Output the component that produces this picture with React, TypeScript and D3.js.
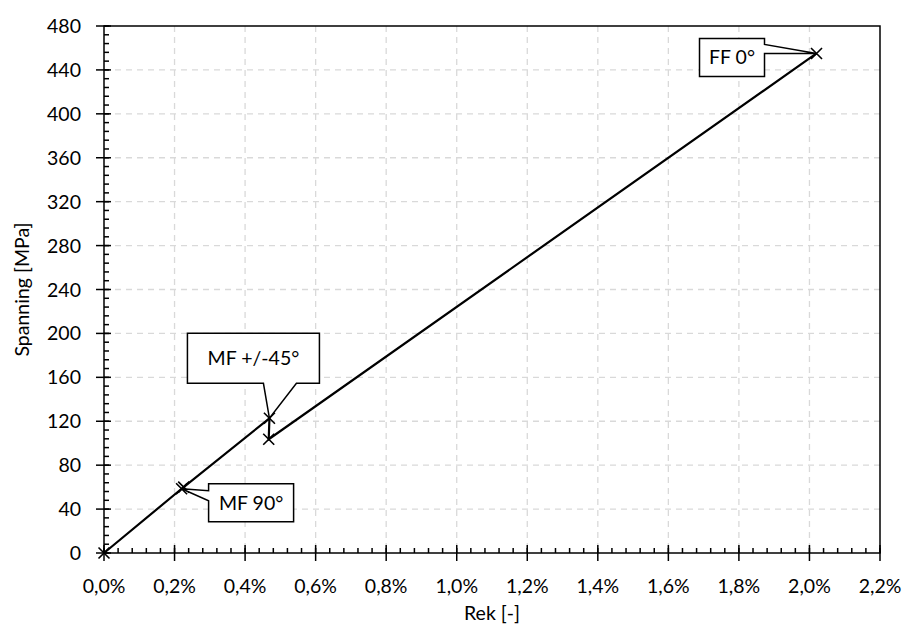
import React, { useEffect, useRef } from 'react'
import * as d3 from 'd3'

// meetpunten (rek als fractie, spanning in MPa)
const strain = [0, 0.0022, 0.00226, 0.00469, 0.00467, 0.0202]
const stress = [0, 58.5, 60, 122.7, 103.6, 455]
const xTicks = [0, 0.002, 0.004, 0.006, 0.008, 0.01, 0.012, 0.014, 0.016, 0.018, 0.02, 0.022]
const yTicks = [0, 40, 80, 120, 160, 200, 240, 280, 320, 360, 400, 440, 480]
const calloutLabels = ['MF 90°', 'MF +/-45°', 'FF 0°']
const calloutPoint = [1, 3, 5]

const FONT = 'Lato, "Open Sans", sans-serif'
const FS = 19.5

export default function App() {
  const ref = useRef<SVGSVGElement>(null)

  useEffect(() => {
    document.body.style.margin = '0'
    const margin = { top: 26, right: 25, bottom: 82, left: 104 }
    const W = 905
    const H = 635
    const width = W - margin.left - margin.right
    const height = H - margin.top - margin.bottom

    const x = d3.scaleLinear().domain([0, 0.022]).range([0, width])
    const y = d3.scaleLinear().domain([0, 480]).range([height, 0])

    const svg = d3.select(ref.current)
    svg.selectAll('*').remove()
    svg.append('rect').attr('width', W).attr('height', H).attr('fill', '#fff')

    const g = svg.append('g').attr('transform', `translate(${margin.left},${margin.top})`)

    // rasterlijnen
    g.selectAll('.vgrid')
      .data(xTicks.slice(1, -1))
      .enter()
      .append('line')
      .attr('x1', d => x(d)).attr('x2', d => x(d))
      .attr('y1', 0).attr('y2', height)
      .attr('stroke', '#d9d9d9').attr('stroke-width', 1.3)
      .attr('stroke-dasharray', '6,5')
    g.selectAll('.hgrid')
      .data(yTicks.slice(1, -1))
      .enter()
      .append('line')
      .attr('y1', d => y(d)).attr('y2', d => y(d))
      .attr('x1', 0).attr('x2', width)
      .attr('stroke', '#d9d9d9').attr('stroke-width', 1.3)
      .attr('stroke-dasharray', '6,5')

    // kader
    g.append('rect')
      .attr('width', width).attr('height', height)
      .attr('fill', 'none').attr('stroke', '#000').attr('stroke-width', 1.5)

    // hoofd- en hulpstreepjes
    const xMinor = d3.range(0, 0.0220001, 0.0004)
    const yMinor = d3.range(0, 480.001, 8)
    g.selectAll('.xminor').data(xMinor).enter().append('line')
      .attr('x1', d => x(d)).attr('x2', d => x(d))
      .attr('y1', height).attr('y2', height - 5)
      .attr('stroke', '#000').attr('stroke-width', 1.5)
    g.selectAll('.yminor').data(yMinor).enter().append('line')
      .attr('y1', d => y(d)).attr('y2', d => y(d))
      .attr('x1', 0).attr('x2', 5)
      .attr('stroke', '#000').attr('stroke-width', 1.5)
    g.selectAll('.xmajor').data(xTicks).enter().append('line')
      .attr('x1', d => x(d)).attr('x2', d => x(d))
      .attr('y1', height - 8).attr('y2', height + 8)
      .attr('stroke', '#000').attr('stroke-width', 1.5)
    g.selectAll('.ymajor').data(yTicks).enter().append('line')
      .attr('y1', d => y(d)).attr('y2', d => y(d))
      .attr('x1', -8).attr('x2', 7)
      .attr('stroke', '#000').attr('stroke-width', 1.5)

    // asteksten
    const fmt = (d: number) => (d * 100).toFixed(1).replace('.', ',') + '%'
    g.selectAll('.xlab').data(xTicks).enter().append('text')
      .attr('x', d => x(d)).attr('y', height + 40)
      .attr('text-anchor', 'middle')
      .attr('font-family', FONT).attr('font-size', FS).attr('fill', '#000')
      .text(fmt)
    g.selectAll('.ylab').data(yTicks).enter().append('text')
      .attr('x', -23).attr('y', d => y(d) + 7)
      .attr('text-anchor', 'end')
      .attr('font-family', FONT).attr('font-size', FS).attr('fill', '#000')
      .text(d => d)

    svg.append('text')
      .attr('x', margin.left + width / 2).attr('y', 620)
      .attr('text-anchor', 'middle')
      .attr('font-family', FONT).attr('font-size', FS)
      .text('Rek [-]')
    svg.append('text')
      .attr('transform', `translate(29,${margin.top + height / 2}) rotate(-90)`)
      .attr('text-anchor', 'middle')
      .attr('font-family', FONT).attr('font-size', FS)
      .text('Spanning [MPa]')

    // lijn met kruisjes
    const pts: [number, number][] = strain.map((s, i) => [s, stress[i]])
    const line = d3.line<[number, number]>().x(d => x(d[0])).y(d => y(d[1]))
    g.append('path').datum(pts)
      .attr('d', line)
      .attr('fill', 'none').attr('stroke', '#000').attr('stroke-width', 2.2)

    const r = 5.5
    g.selectAll('.mark').data(pts).enter().append('path')
      .attr('d', d => {
        const cx = x(d[0]), cy = y(d[1])
        return `M${cx - r},${cy - r}L${cx + r},${cy + r}M${cx - r},${cy + r}L${cx + r},${cy - r}`
      })
      .attr('stroke', '#000').attr('stroke-width', 1.6).attr('fill', 'none')

    // tekstballonnen (positie t.o.v. het punt)
    const boxes = [
      { dx: 27, dy: -5, w: 85, h: 38, side: 'left', a: 2, b: 12 },
      { dx: -82, dy: -85, w: 132, h: 50, side: 'bottom', a: -6, b: 27 },
      { dx: -117, dy: -15, w: 65, h: 38, side: 'right', a: -9, b: 0 },
    ]
    calloutLabels.forEach((label, i) => {
      const p = pts[calloutPoint[i]]
      const px = x(p[0]), py = y(p[1])
      const bx = px + boxes[i].dx, by = py + boxes[i].dy
      const { w, h, side, a, b } = boxes[i]
      let d = ''
      if (side === 'left') {
        d = `M${bx},${by}H${bx + w}V${by + h}H${bx}V${py + b}L${px},${py}L${bx},${py + a}Z`
      } else if (side === 'bottom') {
        d = `M${bx},${by}H${bx + w}V${by + h}H${px + b}L${px},${py}L${px + a},${by + h}H${bx}Z`
      } else {
        d = `M${bx},${by}H${bx + w}V${py + a}L${px},${py}L${bx + w},${py + b}V${by + h}H${bx}Z`
      }
      g.append('path').attr('d', d)
        .attr('fill', '#fff').attr('stroke', '#000').attr('stroke-width', 1.5)
      g.append('text')
        .attr('x', bx + w / 2).attr('y', by + h / 2 + 7)
        .attr('text-anchor', 'middle')
        .attr('font-family', FONT).attr('font-size', FS)
        .text(label)
    })
  }, [])

  return <svg ref={ref} width={905} height={635} style={{ display: 'block' }}></svg>
}
